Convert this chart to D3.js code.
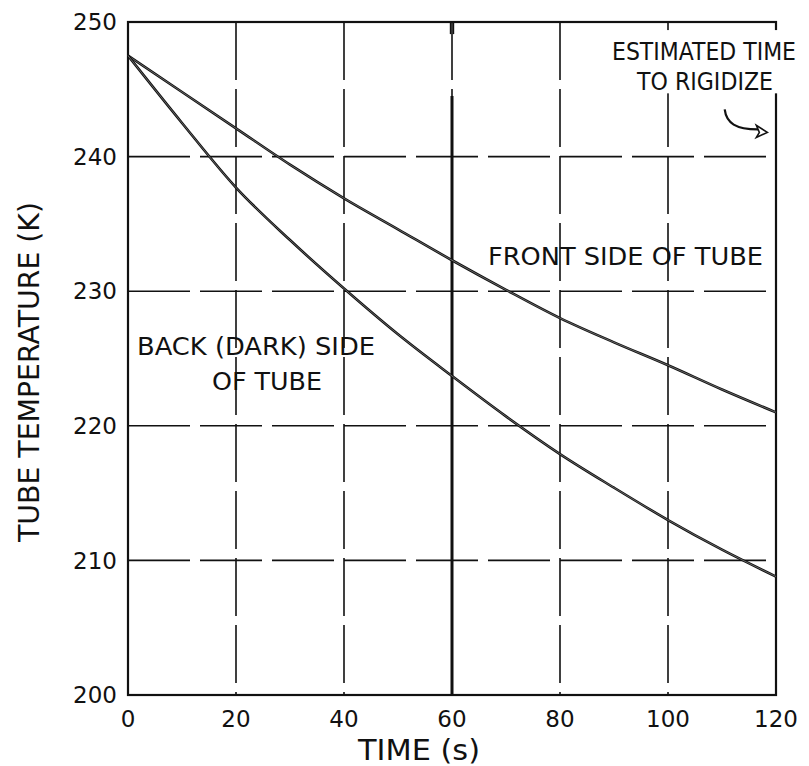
<!DOCTYPE html>
<html>
<head>
<meta charset="utf-8">
<script src="https://cdn.jsdelivr.net/npm/d3@7"></script>
<style>
  html, body { margin: 0; padding: 0; background: #fff; }
  svg { display: block; }
  text { font-family: "DejaVu Sans", "Liberation Sans", sans-serif; fill: #111; }
</style>
</head>
<body>
<svg id="chart" width="809" height="766"></svg>
<script>
// Cooling of an inflatable tube: temperature (K) versus time (s)
const timeS = [0, 10, 20, 30, 40, 50, 60, 70, 80, 90, 100, 110, 120];
const frontSideK = [247.5, 244.8, 242.1, 239.4, 236.9, 234.6, 232.3, 230.1, 228.0, 226.2, 224.5, 222.7, 221.0];
const backSideK = [247.5, 242.5, 237.7, 233.8, 230.2, 226.8, 223.7, 220.7, 217.9, 215.4, 213.0, 210.8, 208.8];
const xTicks = [0, 20, 40, 60, 80, 100, 120];
const yTicks = [200, 210, 220, 230, 240, 250];
const rigidizeTime = 60;        // heavy vertical marker
const rigidizeMarkerTop = 244.5;

const svg = d3.select("#chart");
const x = d3.scaleLinear().domain([0, 120]).range([128, 776]);
const y = d3.scaleLinear().domain([200, 250]).range([695, 22]);

// dashed grid
const grid = svg.append("g").attr("stroke", "#111").attr("stroke-width", 1.6).attr("fill", "none");
grid.selectAll("line.v").data(xTicks.slice(1, -1)).join("line")
  .attr("x1", d => x(d)).attr("x2", d => x(d))
  .attr("y1", y(250)).attr("y2", y(200))
  .attr("stroke-dasharray", "58,9");
grid.selectAll("line.h").data(yTicks.slice(1, -1)).join("line")
  .attr("x1", x(0)).attr("x2", x(120))
  .attr("y1", d => y(d)).attr("y2", d => y(d))
  .attr("stroke-dasharray", "62,10");

// heavy marker line at 60 s
svg.append("line")
  .attr("x1", x(rigidizeTime)).attr("x2", x(rigidizeTime))
  .attr("y1", y(rigidizeMarkerTop)).attr("y2", y(200))
  .attr("stroke", "#111").attr("stroke-width", 3);
svg.append("line")
  .attr("x1", x(rigidizeTime) - 1.5).attr("x2", x(rigidizeTime) - 1.5)
  .attr("y1", y(250)).attr("y2", y(249.1))
  .attr("stroke", "#111").attr("stroke-width", 1.4);
svg.append("line")
  .attr("x1", x(rigidizeTime) + 1.5).attr("x2", x(rigidizeTime) + 1.5)
  .attr("y1", y(250)).attr("y2", y(249.1))
  .attr("stroke", "#111").attr("stroke-width", 1.4);

// white backing for the top-right note
svg.append("rect")
  .attr("x", x(88.5)).attr("y", y(249.4))
  .attr("width", 809 - x(88.5)).attr("height", y(244.7) - y(249.4))
  .attr("fill", "#fff");

// frame
svg.append("rect")
  .attr("x", x(0)).attr("y", y(250))
  .attr("width", x(120) - x(0)).attr("height", y(200) - y(250))
  .attr("fill", "none").attr("stroke", "#111").attr("stroke-width", 2.2);

// cover the frame under the note text
svg.append("rect")
  .attr("x", x(119.3)).attr("y", y(249.4))
  .attr("width", 809 - x(119.3)).attr("height", y(244.7) - y(249.4))
  .attr("fill", "#fff");

// curves
const line = d3.line().x((d, i) => x(timeS[i])).y(d => y(d)).curve(d3.curveMonotoneX);
[frontSideK, backSideK].forEach(series => {
  svg.append("path").datum(series).attr("d", line)
    .attr("fill", "none").attr("stroke", "#111").attr("stroke-width", 2.6);
  svg.append("path").datum(series).attr("d", line)
    .attr("fill", "none").attr("stroke", "#bbb").attr("stroke-width", 0.5);
});

// tick labels
svg.append("g").selectAll("text").data(yTicks).join("text")
  .attr("x", 117).attr("y", d => y(d)).attr("dy", "0.36em")
  .attr("text-anchor", "end").attr("font-size", 23)
  .text(d => d);
svg.append("g").selectAll("text").data(xTicks).join("text")
  .attr("x", d => x(d)).attr("y", 727)
  .attr("text-anchor", "middle").attr("font-size", 23)
  .text(d => d);

// axis titles
svg.append("text")
  .attr("x", 419).attr("y", 760)
  .attr("text-anchor", "middle").attr("font-size", 29)
  .attr("font-family", "'DejaVu Sans Condensed', 'DejaVu Sans', sans-serif")
  .attr("textLength", 122).attr("lengthAdjust", "spacingAndGlyphs")
  .text("TIME (s)");
svg.append("text")
  .attr("transform", "translate(39,372) rotate(-90)")
  .attr("text-anchor", "middle").attr("font-size", 29)
  .attr("font-family", "'DejaVu Sans Condensed', 'DejaVu Sans', sans-serif")
  .attr("textLength", 340).attr("lengthAdjust", "spacingAndGlyphs")
  .text("TUBE TEMPERATURE (K)");

// annotations
function note(str, x0, base, len) {
  svg.append("text").attr("x", x0).attr("y", base)
    .attr("font-size", 24)
    .attr("textLength", len).attr("lengthAdjust", "spacingAndGlyphs")
    .text(str);
}
note("ESTIMATED TIME", 612, 60, 184);
note("TO RIGIDIZE", 637, 90, 136);
note("FRONT SIDE OF TUBE", 488, 265, 275);
note("BACK (DARK) SIDE", 137, 355, 238);
note("OF TUBE", 212, 390, 110);

// pointer to the rigidize marker
const tip = [x(118.4), y(241.8)];
svg.append("path")
  .attr("d", `M${x(110.5)},${y(243.5)} C${x(110.8)},${y(242.5)} ${x(112.5)},${y(242.0)} ${tip[0] - 8},${tip[1] - 3}`)
  .attr("fill", "none").attr("stroke", "#111").attr("stroke-width", 2.2);
svg.append("path")
  .attr("d", `M${tip[0]},${tip[1]} L${tip[0] - 11},${tip[1] - 7} L${tip[0] - 8},${tip[1]} L${tip[0] - 11},${tip[1] + 5} Z`)
  .attr("fill", "#fff").attr("stroke", "#111").attr("stroke-width", 1.6);
</script>
</body>
</html>
